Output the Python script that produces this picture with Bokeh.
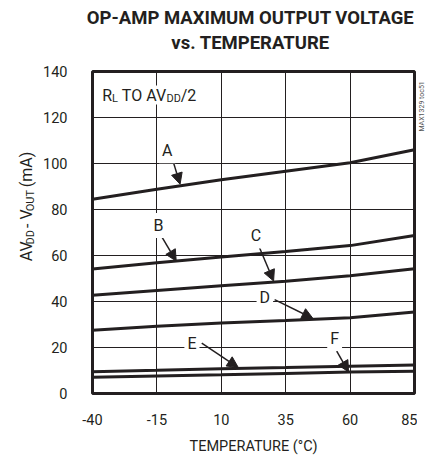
import math
from bokeh.plotting import figure
from bokeh.layouts import column, row
from bokeh.models import Range1d, FixedTicker, Label, Arrow, NormalHead
from bokeh.embed import file_html
from bokeh.resources import INLINE

# ---------------- data ----------------
temps = [-40, -15, 10, 35, 60, 85]
curve_A = [84.5, 88.8, 92.9, 96.6, 100.3, 106.0]
curve_B = [54.1, 56.8, 59.3, 61.7, 64.3, 68.7]
curve_C = [42.7, 44.8, 46.8, 48.8, 51.2, 54.2]
curve_D = [27.5, 29.2, 30.6, 31.7, 32.9, 35.4]
curve_E = [9.5, 10.1, 10.8, 11.3, 11.9, 12.4]
curve_F = [7.1, 7.6, 8.1, 8.7, 9.3, 9.7]
x_ticks = [-40, -15, 10, 35, 60, 85]
x_tick_labels = ["-40", "-15", "10", "35", "60", "85"]
y_ticks = [0, 20, 40, 60, 80, 100, 120, 140]
curve_names = ["A", "B", "C", "D", "E", "F"]
# callout: label position, arrow start, arrow end (temperature, mA)
callouts = {
    "A": ((-11.0, 105.5), (-9.0, 102.0), (-6.0, 91.0)),
    "B": ((-14.4, 73.0), (-13.2, 68.3), (-7.5, 57.6)),
    "C": ((23.5, 68.5), (24.6, 64.0), (30.3, 48.9)),
    "D": ((26.9, 41.6), (30.7, 40.8), (45.6, 32.6)),
    "E": ((-1.4, 21.8), (2.4, 21.9), (16.6, 11.3)),
    "F": ((54.0, 23.9), (54.8, 18.4), (59.4, 9.4)),
}
title_lines = ["OP-AMP MAXIMUM OUTPUT VOLTAGE", "vs. TEMPERATURE"]
x_title = "TEMPERATURE (°C)"

INK = "#231f20"
FONT = "Roboto"


def blank(w, h, xr, yr):
    f = figure(width=w, height=h, output_backend="svg", toolbar_location=None,
               x_range=Range1d(*xr), y_range=Range1d(*yr),
               x_axis_location=None, y_axis_location=None, min_border=0)
    f.outline_line_color = None
    f.background_fill_color = "white"
    f.border_fill_color = "white"
    f.grid.visible = False
    return f


# ---------------- main plot ----------------
p = figure(width=377, height=397, output_backend="svg", toolbar_location=None,
           x_range=Range1d(-40, 85), y_range=Range1d(0, 140),
           min_border_left=47, min_border_right=3, min_border_top=11,
           min_border_bottom=58)
p.background_fill_color = "white"
p.border_fill_color = "white"
p.outline_line_color = INK
p.outline_line_width = 3

for ax in (p.xaxis[0], p.yaxis[0]):
    ax.axis_line_color = None
    ax.major_tick_line_color = None
    ax.minor_tick_line_color = None
    ax.major_label_text_font = FONT
    ax.major_label_text_font_size = "14.5px"
    ax.major_label_text_color = INK
p.xaxis.ticker = FixedTicker(ticks=x_ticks)
p.xaxis.major_label_overrides = {t: s for t, s in zip(x_ticks, x_tick_labels)}
p.yaxis.ticker = FixedTicker(ticks=y_ticks)
p.xaxis.major_label_standoff = 14
p.yaxis.major_label_standoff = 19
p.xaxis.axis_label = x_title
p.xaxis.axis_label_text_font = FONT
p.xaxis.axis_label_text_font_size = "14.5px"
p.xaxis.axis_label_text_font_style = "normal"
p.xaxis.axis_label_text_color = INK
p.xaxis.axis_label_standoff = 10
for g in (p.xgrid[0], p.ygrid[0]):
    g.grid_line_color = INK
    g.grid_line_width = 1
    g.grid_line_alpha = 1

series = [curve_A, curve_B, curve_C, curve_D, curve_E, curve_F]
for name, vals in zip(curve_names, series):
    p.line(temps, vals, line_color=INK, line_width=3)


# image pixel -> data coordinates (frame 87..414 x, 399..71 y)
def X(px):
    return -40 + (px - 87) * 125.0 / 327.0


def Y(py):
    return (399 - py) * 140.0 / 328.0


for name in curve_names:
    (lx, ly), (sx, sy), (ex, ey) = callouts[name]
    p.add_layout(Arrow(x_start=sx, y_start=sy, x_end=ex, y_end=ey,
                       line_color=INK, line_width=1.5,
                       end=NormalHead(size=11, fill_color=INK, line_color=INK,
                                      line_width=1)))
    p.add_layout(Label(x=lx, y=ly, text=name, text_font=FONT,
                       text_font_size="16px", text_color=INK,
                       text_align="center", text_baseline="middle",
                       background_fill_color="white", padding=3))

# character widths (Roboto metrics, em) for composing sub-scripted text
CW = {'A': 0.652, 'V': 0.638, 'D': 0.656, ' ': 0.248, '-': 0.280,
      'O': 0.688, 'U': 0.652, 'T': 0.610, '(': 0.342, 'm': 0.874,
      ')': 0.348, 'R': 0.617, 'L': 0.537, '/': 0.412, '2': 0.562}


def tw(s, size):
    return sum(CW[c] for c in s) * size


# R_L TO AV_DD/2 annotation (inside the frame); (text, size, subscript, gap px)
cur = 97.0
for txt, size, sub, gap in [("R", 16, False, 0), ("L", 11, True, 0),
                            ("TO AV", 16, False, 4), ("DD", 11, True, 0),
                            ("/2", 16, False, 0)]:
    cur += gap
    yy = 95 + (4 if sub else 0)
    p.add_layout(Label(x=X(cur), y=Y(yy), text=txt, text_font=FONT,
                       text_font_size=f"{size}px", text_color=INK,
                       text_align="left", text_baseline="middle",
                       background_fill_color="white"))
    cur += tw(txt, size)

# ---------------- title strip (image coords: x 0..425, y 0..60) ----------------
top = blank(425, 60, (0, 425), (60, 0))
for i, line in enumerate(title_lines):
    top.add_layout(Label(x=250, y=17 + 25 * i, text=line, text_font=FONT,
                         text_font_size="18.5px", text_font_style="bold",
                         text_color=INK, text_align="center",
                         text_baseline="middle"))

# ---------------- y-axis title strip (x 0..40, y 60..457) ----------------
left = blank(40, 397, (0, 40), (457, 60))
cur = 294.0
for txt, size, sub, gap in [("AV", 16, False, 0), ("DD", 11, True, 0),
                            ("-", 16, False, 6), ("V", 16, False, 6),
                            ("OUT", 11, True, 0), ("(mA)", 16, False, 8)]:
    cur -= gap
    xx = 26 + (4 if sub else 0)
    left.add_layout(Label(x=xx, y=cur, text=txt, text_font=FONT,
                          text_font_size=f"{size}px", text_color=INK,
                          text_align="left", text_baseline="middle",
                          angle=math.pi / 2))
    cur -= tw(txt, size)

# ---------------- figure id strip (x 417..425) ----------------
right = blank(8, 397, (417, 425), (457, 60))
right.add_layout(Label(x=421, y=103, text="MAX1329 toc51", text_font=FONT,
                       text_font_size="7px", text_color="#555555",
                       text_align="center", text_baseline="middle",
                       angle=math.pi / 2))

layout = column(top, row(left, p, right, spacing=0), spacing=0)
open("out.html", "w").write(file_html(layout, INLINE))
